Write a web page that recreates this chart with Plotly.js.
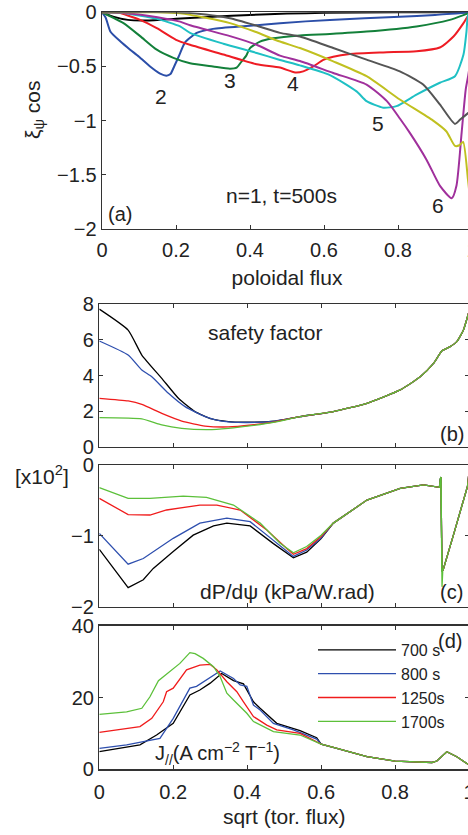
<!DOCTYPE html>
<html>
<head>
<meta charset="utf-8">
<script src="https://cdn.plot.ly/plotly-3.0.1.min.js"></script>
<style>
html,body{margin:0;padding:0;overflow:hidden;background:#fff;}
#plot{width:490px;height:835px;}
</style>
</head>
<body>
<div id="plot"></div>
<script>
// ---------- Panel (a): xi_psi cos vs poloidal flux, n=1, t=500s ----------
const a1_x = [0,0.03,0.07,0.12,0.2,0.3,0.4,0.5,0.6,0.8,1];
const a1_y = [0,-0.04,-0.07,-0.075,-0.06,-0.04,-0.025,-0.012,-0.005,0,0];
const a2_x = [0,0.01,0.023,0.05,0.076,0.1,0.13,0.157,0.174,0.185,0.195,0.207,0.224,0.24,0.256,0.3,0.4,0.481,0.616,0.805,0.9,1];
const a2_y = [0,-0.05,-0.18,-0.27,-0.345,-0.41,-0.5,-0.566,-0.585,-0.57,-0.5,-0.41,-0.28,-0.23,-0.19,-0.153,-0.125,-0.1,-0.07,-0.04,-0.025,0];
const a3_x = [0,0.058,0.103,0.148,0.193,0.238,0.3,0.346,0.364,0.378,0.39,0.4,0.427,0.463,0.535,0.616,0.715,0.85,0.94,0.99,1];
const a3_y = [0,-0.1,-0.22,-0.345,-0.42,-0.47,-0.5,-0.52,-0.51,-0.45,-0.4,-0.33,-0.27,-0.24,-0.214,-0.2,-0.178,-0.13,-0.07,-0.01,0];
const a4_x = [0,0.04,0.103,0.148,0.2,0.238,0.328,0.418,0.481,0.522,0.544,0.571,0.598,0.625,0.67,0.76,0.85,0.913,0.95,0.977,0.99,1];
const a4_y = [0,0,-0.07,-0.147,-0.254,-0.3,-0.39,-0.48,-0.51,-0.555,-0.545,-0.5,-0.44,-0.41,-0.385,-0.37,-0.36,-0.325,-0.224,-0.1,-0.03,0];
const a5_x = [0,0.05,0.1,0.148,0.211,0.238,0.328,0.418,0.481,0.535,0.616,0.688,0.715,0.76,0.796,0.85,0.913,0.954,0.977,0.985,0.99,1];
const a5_y = [0,-0.005,-0.03,-0.06,-0.13,-0.19,-0.29,-0.375,-0.44,-0.49,-0.58,-0.73,-0.82,-0.88,-0.866,-0.76,-0.65,-0.59,-0.39,-0.18,-0.02,0];
const a6_x = [0,0.05,0.1,0.15,0.211,0.238,0.346,0.418,0.481,0.535,0.625,0.715,0.77,0.805,0.832,0.877,0.914,0.945,0.958,0.972,0.983,0.99,1];
const a6_y = [0,-0.005,-0.02,-0.045,-0.086,-0.12,-0.22,-0.3,-0.4,-0.45,-0.56,-0.667,-0.82,-0.98,-1.113,-1.36,-1.605,-1.716,-1.6,-1.11,-0.713,-0.58,-0.35];
const a7_x = [0,0.15,0.211,0.28,0.346,0.414,0.481,0.535,0.625,0.715,0.805,0.895,0.931,0.954,0.966,0.976,0.989,1];
const a7_y = [0,0,-0.01,-0.05,-0.1,-0.18,-0.27,-0.33,-0.453,-0.59,-0.805,-1.0,-1.1,-1.233,-1.227,-1.196,-1.54,-1.9];
const a8_x = [0,0.2,0.28,0.346,0.414,0.481,0.535,0.625,0.715,0.805,0.868,0.913,0.954,0.968,0.986,1];
const a8_y = [0,0,-0.02,-0.055,-0.12,-0.19,-0.224,-0.33,-0.437,-0.545,-0.667,-0.85,-1.03,-0.99,-0.94,-0.9];
const a_labels = ["2","3","4","5","6"];
const a_label_x = [0.159,0.346,0.516,0.746,0.908];
const a_label_y = [-0.777,-0.63,-0.658,-1.026,-1.786];

// ---------- Panel (b): safety factor ----------
const q_tail_x = [0.543,0.633,0.724,0.814,0.868,0.904,0.927,0.949,0.967,0.985,1.0];
const q_tail_y = [1.69,1.97,2.44,3.19,3.93,4.68,5.39,5.62,5.9,6.56,7.6];
const b700_x = [0,0.078,0.115,0.169,0.214,0.259,0.304,0.349,0.394,0.475];
const b700_y = [7.73,6.55,5.15,3.84,2.72,1.97,1.56,1.41,1.38,1.44];
const b800_x = [0,0.078,0.115,0.142,0.187,0.232,0.286,0.331,0.394,0.475];
const b800_y = [5.94,5.15,4.31,3.93,3.0,2.25,1.69,1.44,1.36,1.44];
const b1250_x = [0,0.078,0.115,0.169,0.223,0.286,0.349,0.412,0.475];
const b1250_y = [2.72,2.57,2.38,1.87,1.44,1.16,1.11,1.22,1.4];
const b1700_x = [0,0.115,0.169,0.223,0.295,0.349,0.412,0.475];
const b1700_y = [1.63,1.56,1.22,1.03,0.96,1.03,1.18,1.38];

// ---------- Panel (c): dP/dpsi [x10^2] ----------
const c_tail_x = [0.633,0.724,0.814,0.877,0.92,0.922,0.924,0.927,0.93,0.96,0.996,1.0];
const c_tail_y = [-0.82,-0.495,-0.33,-0.28,-0.315,-0.2,-0.17,-1.5,-1.48,-0.95,-0.3,-0.1];
const c700_x = [0,0.078,0.119,0.146,0.2,0.254,0.309,0.345,0.408,0.471,0.525,0.561,0.6];
const c700_y = [-1.19,-1.73,-1.62,-1.46,-1.22,-0.99,-0.86,-0.82,-0.86,-1.11,-1.31,-1.23,-1.04];
const c800_x = [0,0.078,0.119,0.2,0.272,0.345,0.408,0.471,0.525,0.561,0.6];
const c800_y = [-0.965,-1.4,-1.32,-1.035,-0.82,-0.75,-0.8,-1.06,-1.29,-1.2,-1.03];
const c1250_x = [0,0.078,0.137,0.182,0.272,0.318,0.381,0.453,0.507,0.525,0.561,0.6];
const c1250_y = [-0.47,-0.7,-0.706,-0.635,-0.565,-0.565,-0.635,-0.918,-1.18,-1.26,-1.18,-1.01];
const c1700_x = [0,0.078,0.137,0.227,0.29,0.363,0.435,0.489,0.525,0.561,0.6];
const c1700_y = [-0.32,-0.47,-0.47,-0.44,-0.456,-0.565,-0.82,-1.105,-1.24,-1.15,-0.99];
const c1700_dip_x = [0.924,0.927,0.929];
const c1700_dip_y = [-0.17,-1.72,-1.5];

// ---------- Panel (d): J_parallel ----------
const j_tail_x = [0.6,0.633,0.7,0.724,0.8,0.85,0.9,0.913,0.94,0.967,1.0];
const j_tail_y = [7.0,6.1,4.2,3.5,2.3,2.0,1.9,2.3,4.9,3.5,1.2];
const d700_x = [0,0.11,0.155,0.2,0.245,0.272,0.3,0.331,0.363,0.39,0.417,0.435,0.48,0.543,0.588];
const d700_y = [4.9,6.8,9.55,12.8,20.7,22.1,24.0,26.7,24.7,23.8,18.8,17.0,12.8,10.8,8.8];
const d800_x = [0,0.074,0.119,0.164,0.2,0.245,0.263,0.29,0.327,0.363,0.381,0.399,0.417,0.435,0.471,0.525,0.588];
const d800_y = [5.85,6.8,7.7,8.6,14.2,22.6,23.1,24.9,27.4,25.3,23.5,23.1,17.9,16.5,12.8,11.0,8.4];
const d1250_x = [0,0.11,0.142,0.173,0.182,0.2,0.236,0.272,0.3,0.318,0.345,0.372,0.39,0.417,0.453,0.48,0.543];
const d1250_y = [10.3,11.9,14.2,18.8,21.6,22.6,27.7,29.0,29.2,27.7,24.4,21.6,18.8,14.7,12.3,11.0,10.0];
const d1700_x = [0,0.074,0.115,0.137,0.16,0.19,0.218,0.245,0.259,0.281,0.309,0.327,0.345,0.363,0.399,0.417,0.471,0.543,0.588];
const d1700_y = [15.3,16.0,17.0,20.2,24.7,27.2,29.5,32.5,32.2,30.9,28.6,25.8,21.2,19.3,15.6,13.3,10.5,9.55,7.7];

const timeNames = ["700 s","800 s","1250s","1700s"];
const timeColors = ["#000000","#2e4fae","#f01c1c","#5cc03a"];
const modeColors = ["#000000","#2b4ea8","#13803a","#ee1c24","#1fc0c4","#a0309c","#c0c020","#555555"];

const traces = [];
const aX = [a1_x,a2_x,a3_x,a4_x,a5_x,a6_x,a7_x,a8_x];
const aY = [a1_y,a2_y,a3_y,a4_y,a5_y,a6_y,a7_y,a8_y];
for (let i=0;i<aX.length;i++){
  traces.push({x:aX[i],y:aY[i],xaxis:'x',yaxis:'y',mode:'lines',showlegend:false,
    line:{color:modeColors[i],width:2,shape:'spline',smoothing:0.6}});
}
function join(hx,hy,tx,ty){
  const x=hx.slice(), y=hy.slice();
  for(let i=0;i<tx.length;i++){ if(tx[i]>hx[hx.length-1]){x.push(tx[i]);y.push(ty[i]);} }
  return {x:x,y:y};
}
const bX=[b700_x,b800_x,b1250_x,b1700_x], bY=[b700_y,b800_y,b1250_y,b1700_y];
const cX=[c700_x,c800_x,c1250_x,c1700_x], cY=[c700_y,c800_y,c1250_y,c1700_y];
const dX=[d700_x,d800_x,d1250_x,d1700_x], dY=[d700_y,d800_y,d1250_y,d1700_y];
for (let i=0;i<4;i++){
  const b=join(bX[i],bY[i],q_tail_x,q_tail_y);
  traces.push({x:b.x,y:b.y,xaxis:'x2',yaxis:'y2',mode:'lines',showlegend:false,
    line:{color:timeColors[i],width:1.3,shape:'spline',smoothing:0.5}});
  const c=join(cX[i],cY[i],c_tail_x,c_tail_y);
  traces.push({x:c.x,y:c.y,xaxis:'x3',yaxis:'y3',mode:'lines',showlegend:false,
    line:{color:timeColors[i],width:1.3}});
}
traces.push({x:c1700_dip_x,y:c1700_dip_y,xaxis:'x3',yaxis:'y3',mode:'lines',showlegend:false,
  line:{color:timeColors[3],width:1.3}});
for (let i=0;i<4;i++){
  const d=join(dX[i],dY[i],j_tail_x,j_tail_y);
  traces.push({x:d.x,y:d.y,xaxis:'x4',yaxis:'y4',mode:'lines',name:timeNames[i],showlegend:true,
    line:{color:timeColors[i],width:1.3}});
}

const W=490, H=835;
const FONT='Liberation Sans, Arial, sans-serif';
const TXT='#222';
const TICK=20, TITLE=21, ANN=21;
function ax(extra){
  return Object.assign({showline:true,linecolor:'#333',linewidth:1.4,mirror:'ticks',
    ticks:'inside',ticklen:4,tickcolor:'#333',zeroline:false,showgrid:false,
    tickfont:{family:FONT,size:TICK,color:TXT}},extra);
}
const dA=[102/W,472/W], dB=[99.3/W,469/W];
const layout={
  width:W,height:H,margin:{l:0,r:0,t:0,b:0},paper_bgcolor:'#fff',plot_bgcolor:'#fff',
  font:{family:FONT,color:TXT,size:ANN},
  xaxis:ax({domain:dA,range:[0,1],anchor:'y',tickvals:[0,0.2,0.4,0.6,0.8,1],ticktext:['0','0.2','0.4','0.6','0.8','1'],
    ticklabelstandoff:3,
    title:{text:'poloidal flux',font:{family:FONT,size:TITLE,color:TXT},standoff:10}}),
  yaxis:ax({domain:[1-229/H,1-12.3/H],range:[-2,0],anchor:'x',tickvals:[-2,-1.5,-1,-0.5,0],ticktext:['\u22122','\u22121.5','\u22121','\u22120.5','0']}),
  xaxis2:ax({domain:dB,range:[0,1],anchor:'y2',tickvals:[0,0.2,0.4,0.6,0.8,1],showticklabels:false}),
  yaxis2:ax({domain:[1-446.7/H,1-304.3/H],range:[0,8],anchor:'x2',tickvals:[0,2,4,6,8]}),
  xaxis3:ax({domain:dB,range:[0,1],anchor:'y3',tickvals:[0,0.2,0.4,0.6,0.8,1],showticklabels:false}),
  yaxis3:ax({domain:[1-606.7/H,1-465/H],range:[-2,0],anchor:'x3',tickvals:[-2,-1,0],ticktext:['\u22122','\u22121','0']}),
  xaxis4:ax({domain:dB,range:[0,1],anchor:'y4',tickvals:[0,0.2,0.4,0.6,0.8,1],ticktext:['0','0.2','0.4','0.6','0.8','1'],
    ticklabelstandoff:4,
    title:{text:'sqrt (tor. flux)',font:{family:FONT,size:TITLE,color:TXT},standoff:7}}),
  yaxis4:ax({domain:[1-769.3/H,1-625.7/H],range:[0,40],anchor:'x4',tickvals:[0,20,40]}),
  legend:{x:313/W,y:1-633/H,xanchor:'left',yanchor:'top',bgcolor:'rgba(0,0,0,0)',
    font:{family:FONT,size:16,color:TXT},tracegroupgap:0,itemwidth:78},
  annotations:[]
};
const ann=layout.annotations;
function A(o){ ann.push(Object.assign({showarrow:false,xanchor:'center',yanchor:'middle'},o)); }
for(let i=0;i<a_labels.length;i++){
  A({xref:'x',yref:'y',x:a_label_x[i],y:a_label_y[i],text:a_labels[i],font:{size:ANN}});
}
A({xref:'x',yref:'y',x:0.484,y:-1.695,text:'n=1, t=500s',font:{size:ANN}});
A({xref:'x',yref:'y',x:0.049,y:-1.86,text:'(a)',font:{size:ANN-1}});
A({xref:'paper',yref:'paper',x:34/W,y:1-110/H,text:'\u03be<sub>\u03c8</sub> cos',textangle:-90,font:{size:ANN}});
A({xref:'x2',yref:'y2',x:0.448,y:6.39,text:'safety factor',font:{size:ANN}});
A({xref:'x2',yref:'y2',x:0.954,y:0.71,text:'(b)',font:{size:ANN-1}});
A({xref:'x3',yref:'y3',x:0.508,y:-1.79,text:'dP/d\u03c8 (kPa/W.rad)',font:{size:ANN}});
A({xref:'x3',yref:'y3',x:0.952,y:-1.79,text:'(c)',font:{size:ANN-1}});
A({xref:'paper',yref:'paper',x:42/W,y:1-475/H,text:'[x10<sup>2</sup>]',font:{size:ANN}});
A({xref:'x4',yref:'y4',x:0.321,y:4.5,text:'J<sub>//</sub>(A cm<sup>\u22122</sup> T<sup>\u22121</sup>)',font:{size:ANN-1}});
A({xref:'x4',yref:'y4',x:0.949,y:35.8,text:'(d)',font:{size:ANN-1}});

Plotly.newPlot('plot',traces,layout,{staticPlot:true,displayModeBar:false});
</script>
</body>
</html>
